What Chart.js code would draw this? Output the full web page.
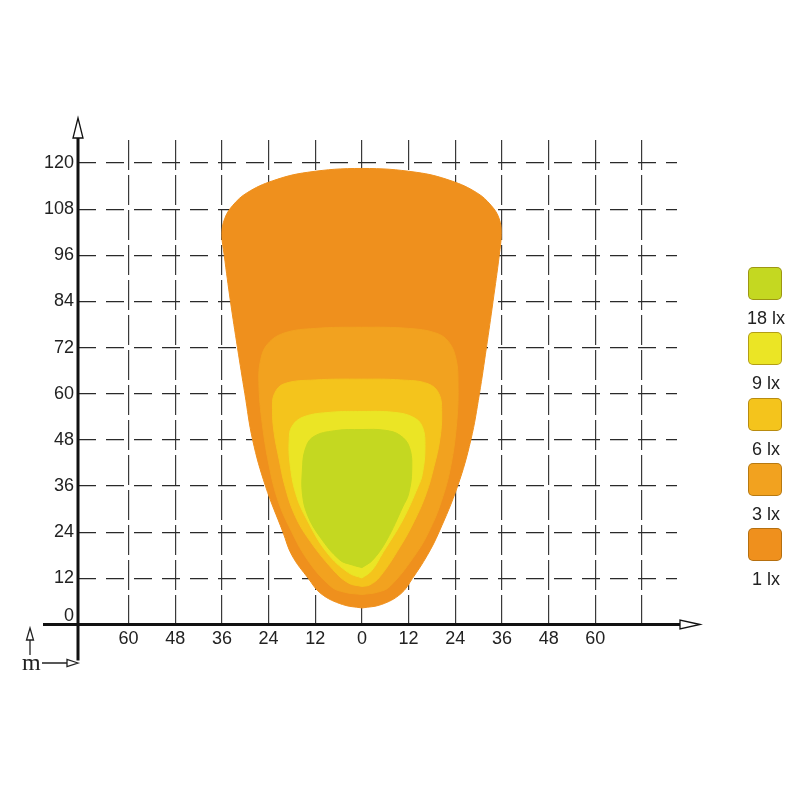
<!DOCTYPE html>
<html>
<head>
<meta charset="utf-8">
<script src="https://cdn.jsdelivr.net/npm/chart.js@4.4.1/dist/chart.umd.min.js"></script>
<style>
  body { margin: 0; background: #fff; }
  #wrap { position: relative; width: 800px; height: 800px; }
  .key { position: absolute; width: 34px; height: 33px; border-radius: 5px; box-sizing: border-box; border: 1px solid rgba(110, 70, 0, 0.45); }
  .keylab { position: absolute; width: 60px; text-align: center; font: 18px "Liberation Sans", Arial, sans-serif; color: #222; line-height: 18px; }
</style>
</head>
<body>
<div id="wrap">
  <canvas id="canvas_light" width="800" height="800"></canvas>
</div>
<script>
// legend / isolux levels (innermost first)
var levels = ['18 lx', '9 lx', '6 lx', '3 lx', '1 lx'];
var colors = ['#c4d821', '#ebe525', '#f4c41c', '#f2a21f', '#ef901d'];

// contour outlines (x = lateral m, y = distance m)
var lx18_x = [0, -2.5, -5.7, -10.8, -14, -15.3, -15.3, -14.6, -12.5, -7, 0, 6, 9.8, 12.2, 12.8, 12, 10.5, 6.4, 2.8, 0];
var lx18_y = [14.8, 15.5, 16.8, 22.8, 28.5, 34, 40.2, 45.5, 48.8, 50.4, 50.7, 50.5, 49.2, 46.1, 40.2, 34, 30.6, 22, 16.8, 14.8];

var lx9_x = [0, -3.5, -9, -14.1, -17, -18.5, -18.7, -18, -15, -8, 0, 8, 13, 15.5, 16.2, 15.5, 14.4, 10.5, 5.4, 2.5, 0];
var lx9_y = [12.1, 13.5, 18.7, 27.2, 34, 42, 48, 51.5, 54, 55.2, 55.4, 55.2, 54, 51.5, 46, 39, 35.8, 27.2, 18.7, 14, 12.1];

var lx6_x = [0, -3.5, -7.5, -14.1, -17.5, -19.8, -21.3, -22.6, -23, -22.5, -20, -12, 0, 10, 17, 19.8, 20.5, 20, 18.5, 16.5, 13.5, 9.8, 4.6, 2, 0];
var lx6_y = [9.9, 10.8, 14.3, 22.8, 29, 36, 43, 50, 56, 60, 62.6, 63.6, 63.8, 63.6, 62.6, 60, 55, 48, 41, 34, 27, 20.2, 12.4, 10.3, 9.9];

var lx3_x = [0, -4.5, -8, -14, -18.7, -21.5, -23.6, -25.6, -26.5, -26, -24.2, -20, -12, 0, 12, 19, 22.3, 24.2, 24.7, 24.4, 22.8, 20.4, 17.6, 14.1, 7.2, 4, 0];
var lx3_y = [7.8, 8.4, 9.9, 16.8, 25.4, 32, 40, 52, 63, 69, 73, 75.8, 77, 77.3, 77, 75.8, 73.5, 69, 63, 53, 41, 32, 25, 18.7, 9.9, 8.4, 7.8];

var lx1_x = [0, -5, -10.5, -13.8, -18, -20.3, -24.8, -28.1, -30.1, -32, -33.8, -35.4, -36, -35.3, -33.2, -29.5, -22.9, -14, 0, 14, 22.9, 29.5, 33.2, 35.3, 35.8, 35.3, 33.7, 32, 30.2, 28, 24.6, 19.8, 16.8, 13, 10, 5, 0];
var lx1_y = [4.3, 5.2, 8, 12, 18, 24, 36, 48, 60, 72, 84, 96, 101.5, 105.5, 109, 112.3, 115.4, 117.6, 118.6, 117.6, 115.4, 112.3, 109, 105.5, 101.5, 96, 84, 72, 60, 48, 36, 24, 18, 12, 8, 5.2, 4.3];

var outlinesX = [lx18_x, lx9_x, lx6_x, lx3_x, lx1_x];
var outlinesY = [lx18_y, lx9_y, lx6_y, lx3_y, lx1_y];

function zip(xs, ys) {
  var pts = [];
  for (var i = 0; i < xs.length; i++) {
    pts.push({x: xs[i], y: ys[i]});
  }
  return pts;
}

var datasets = [];
for (var i = 0; i < levels.length; i++) {
  datasets.push({
    label: levels[i],
    data: zip(outlinesX[i], outlinesY[i]),
    backgroundColor: colors[i],
    borderColor: colors[i],
    borderWidth: 1,
    pointRadius: 0,
    tension: 0.4,
    fill: 'shape'
  });
}

// axes, arrows, the shifted "0" and the little "m" key
var axisPlugin = {
  id: 'axes',
  afterDraw: function(chart) {
    var ctx = chart.ctx;
    var xs = chart.scales.x, ys = chart.scales.y;
    var x0 = xs.getPixelForValue(xs.min);
    var y0 = ys.getPixelForValue(0);
    var top = chart.chartArea.top, right = chart.chartArea.right;
    ctx.save();
    ctx.strokeStyle = '#111';
    ctx.lineWidth = 3;
    ctx.beginPath();
    ctx.moveTo(x0, y0 + 36);
    ctx.lineTo(x0, top - 2);
    ctx.moveTo(x0 - 35, y0);
    ctx.lineTo(right + 3, y0);
    ctx.stroke();

    ctx.lineWidth = 1.3;
    ctx.fillStyle = '#fff';
    ctx.beginPath();
    ctx.moveTo(x0, top - 22);
    ctx.lineTo(x0 + 5, top - 2);
    ctx.lineTo(x0 - 5, top - 2);
    ctx.closePath();
    ctx.fill(); ctx.stroke();
    ctx.beginPath();
    ctx.moveTo(right + 23, y0);
    ctx.lineTo(right + 3, y0 - 4.5);
    ctx.lineTo(right + 3, y0 + 4.5);
    ctx.closePath();
    ctx.fill(); ctx.stroke();

    ctx.fillStyle = '#222';
    ctx.font = '18px "Liberation Sans", Arial, sans-serif';
    ctx.textAlign = 'right';
    ctx.textBaseline = 'middle';
    ctx.fillText('0', x0 - 4, y0 - 8);

    // m key
    ctx.font = '24px "Liberation Serif", "Times New Roman", serif';
    ctx.textAlign = 'left';
    ctx.textBaseline = 'alphabetic';
    ctx.fillText('m', 22, 670);
    ctx.lineWidth = 1.3;
    ctx.strokeStyle = '#222';
    ctx.beginPath();
    ctx.moveTo(30, 655); ctx.lineTo(30, 640);
    ctx.moveTo(42, 663); ctx.lineTo(67, 663);
    ctx.stroke();
    ctx.fillStyle = '#fff';
    ctx.beginPath();
    ctx.moveTo(30, 628); ctx.lineTo(33.5, 640); ctx.lineTo(26.5, 640); ctx.closePath();
    ctx.fill(); ctx.stroke();
    ctx.beginPath();
    ctx.moveTo(78, 663); ctx.lineTo(67, 659.5); ctx.lineTo(67, 666.5); ctx.closePath();
    ctx.fill(); ctx.stroke();
    ctx.restore();
  }
};

Chart.defaults.font.family = '"Liberation Sans", Arial, sans-serif';
Chart.defaults.font.size = 18;
Chart.defaults.color = '#222';

var ctxL = document.getElementById('canvas_light').getContext('2d');
var lightChart = new Chart(ctxL, {
  type: 'line',
  data: { datasets: datasets },
  options: {
    responsive: false,
    animation: false,
    events: [],
    layout: { padding: { left: 0, right: 123, top: 140, bottom: 135.5 } },
    plugins: {
      legend: { display: false },
      tooltip: { enabled: false }
    },
    scales: {
      x: {
        type: 'linear',
        min: -73,
        max: 81,
        afterFit: function(s) { s.height = 40; },
        ticks: {
          stepSize: 12,
          includeBounds: false,
          maxRotation: 0,
          autoSkip: false,
          padding: 4,
          callback: function(v) { return (v < -66 || v > 66) ? '' : String(Math.abs(v)); }
        },
        grid: {
          drawTicks: false,
          lineWidth: 1.2,
          color: function(c) { return (c.tick && c.tick.value < -66) ? 'rgba(0,0,0,0)' : '#3a3a3a'; }
        },
        border: { display: false, dash: [30, 5] }
      },
      y: {
        min: 0,
        max: 126,
        afterFit: function(s) { s.width = 78; },
        ticks: {
          stepSize: 12,
          includeBounds: false,
          padding: 4,
          callback: function(v) { return v === 0 ? '' : String(v); }
        },
        grid: {
          drawTicks: false,
          lineWidth: 1.2,
          color: function(c) { return (c.tick && c.tick.value === 0) ? 'rgba(0,0,0,0)' : '#2a2a2a'; }
        },
        border: { display: false, dash: [18, 10] }
      }
    }
  },
  plugins: [axisPlugin]
});

// legend boxes on the right
var wrap = document.getElementById('wrap');
for (var k = 0; k < levels.length; k++) {
  var box = document.createElement('div');
  box.className = 'key';
  box.style.left = '748px';
  box.style.top = (267 + k * 65.3) + 'px';
  box.style.background = colors[k];
  wrap.appendChild(box);
  var lab = document.createElement('div');
  lab.className = 'keylab';
  lab.style.left = '736px';
  lab.style.top = (309 + k * 65.3) + 'px';
  lab.textContent = levels[k];
  wrap.appendChild(lab);
}
</script>
</body>
</html>
